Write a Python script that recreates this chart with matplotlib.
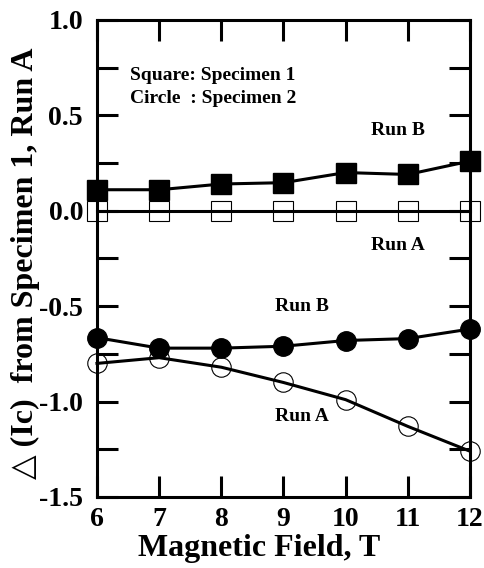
import numpy as np
import matplotlib.pyplot as plt
from matplotlib.ticker import MultipleLocator

# Данные
field = [6, 7, 8, 9, 10, 11, 12]
sq_run_b = [0.11, 0.11, 0.14, 0.147, 0.20, 0.19, 0.26]
sq_run_a = [0, 0, 0, 0, 0, 0, 0]
ci_run_b = [-0.665, -0.72, -0.72, -0.71, -0.68, -0.67, -0.62]
ci_run_a = [-0.80, -0.77, -0.82, -0.90, -0.99, -1.13, -1.26]

plt.rcParams['font.family'] = ['Liberation Serif', 'DejaVu Serif']
plt.rcParams['font.weight'] = 'bold'

fig = plt.figure(figsize=(4.84, 5.68), dpi=100)
ax = fig.add_axes([0.2004, 0.125, 0.7706, 0.840])

lw = 2.2
ax.plot(field, sq_run_b, color='black', lw=lw, marker='s', ms=14,
        mfc='black', mec='black', clip_on=False, zorder=3)
ax.plot(field, sq_run_a, color='black', lw=lw, marker='s', ms=14,
        mfc='none', mec='black', mew=0.8, clip_on=False, zorder=3)
ax.plot(field, ci_run_b, color='black', lw=lw, marker='o', ms=14,
        mfc='black', mec='black', clip_on=False, zorder=3)
ax.plot(field, ci_run_a, color='black', lw=lw, marker='o', ms=14,
        mfc='none', mec='black', mew=0.8, clip_on=False, zorder=3)

ax.set_xlim(6, 12)
ax.set_ylim(-1.5, 1.0)
ax.xaxis.set_major_locator(MultipleLocator(1))
ax.yaxis.set_minor_locator(MultipleLocator(0.25))
ax.set_yticks([1.0, 0.5, 0.0, -0.5, -1.0, -1.5])
ax.set_yticklabels(['1.0', '0.5', '0.0', '-0.5', '-1.0', '-1.5'])

ax.tick_params(which='both', direction='in', top=True, right=True,
               length=15, width=2.2, labelsize=20)
ax.tick_params(axis='x', pad=7)
ax.tick_params(axis='y', pad=10)
for s in ax.spines.values():
    s.set_linewidth(2.2)
for lab in ax.get_xticklabels() + ax.get_yticklabels():
    lab.set_fontweight('bold')

# подписи осей ставим вручную, как на оригинале
fig.text(0.535, 0.022, 'Magnetic Field, T', fontsize=23, fontweight='bold',
         ha='center', va='baseline')
fig.text(0.052, 0.537, '△ (Ic)  from Specimen 1, Run A', fontsize=23,
         fontweight='bold', rotation=90, ha='center', va='center')

fs = 14
ax.text(6.53, 0.71, 'Square: Specimen 1', fontsize=fs, fontweight='bold', va='center')
ax.text(6.53, 0.59, 'Circle  : Specimen 2', fontsize=fs, fontweight='bold', va='center')
ax.text(10.84, 0.42, 'Run B', fontsize=fs, fontweight='bold', ha='center', va='center')
ax.text(10.84, -0.18, 'Run A', fontsize=fs, fontweight='bold', ha='center', va='center')
ax.text(9.3, -0.50, 'Run B', fontsize=fs, fontweight='bold', ha='center', va='center')
ax.text(9.3, -1.08, 'Run A', fontsize=fs, fontweight='bold', ha='center', va='center')

fig.savefig('out.png', dpi=100)
